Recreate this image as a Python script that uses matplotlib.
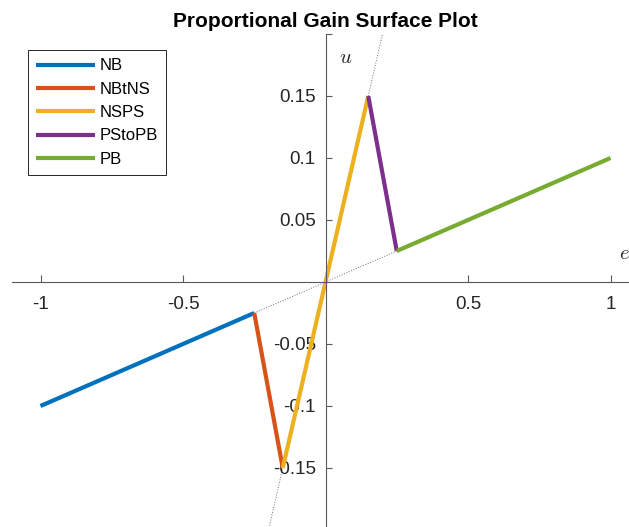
#Proportional gain surface plot, piecewise linear u(e)
import numpy as np
import matplotlib
matplotlib.use('Agg')
import matplotlib.pyplot as plt

plt.rcParams['font.family'] = ['Liberation Sans', 'DejaVu Sans']
plt.rcParams['mathtext.fontset'] = 'cm'

# Abschnitte der Kennlinie
e_NB = [-1, -0.25]
u_NB = [-0.1, -0.025]
e_NBtNS = [-0.25, -0.15]
u_NBtNS = [-0.025, -0.15]
e_NSPS = [-0.15, 0.15]
u_NSPS = [-0.15, 0.15]
e_PStoPB = [0.15, 0.25]
u_PStoPB = [0.15, 0.025]
e_PB = [0.25, 1]
u_PB = [0.025, 0.1]

# Hilfslinien (gepunktet)
e_flat = [-0.25, 0.25]
u_flat = [-0.025, 0.025]
e_steep = [-0.25, 0.25]
u_steep = [-0.25, 0.25]

xticks = [-1, -0.5, 0.5, 1]
xlabels = ['-1', '-0.5', '0.5', '1']
yticks = [-0.15, -0.1, -0.05, 0.05, 0.1, 0.15, 0.2]
ylabels = ['-0.15', '-0.1', '-0.05', '0.05', '0.1', '0.15', '']

names = ['NB', 'NBtNS', 'NSPS', 'PStoPB', 'PB']
colors = ['#0072BD', '#D95319', '#EDB120', '#7E2F8E', '#77AC30']

fig = plt.figure(figsize=(6.29, 5.27), dpi=100)
ax = fig.add_axes([12/629, -3/527, 627/629, 496/527])

ax.plot(e_flat, u_flat, ':', color='#707070', lw=0.7, zorder=1)
ax.plot(e_steep, u_steep, ':', color='#707070', lw=0.7, zorder=1)

segs = [(e_NB, u_NB), (e_NBtNS, u_NBtNS), (e_NSPS, u_NSPS), (e_PStoPB, u_PStoPB), (e_PB, u_PB)]
for (e, u), name, c in zip(segs, names, colors):
    ax.plot(e, u, '-', color=c, lw=3.0, label=name, zorder=2, solid_capstyle='butt')

ax.set_xlim(-1.1, 1.1)
ax.set_ylim(-0.2, 0.2)

ax.spines['left'].set_position(('data', 0))
ax.spines['bottom'].set_position(('data', 0))
ax.spines['top'].set_visible(False)
ax.spines['right'].set_visible(False)
for s in ['left', 'bottom']:
    ax.spines[s].set_color('#5a5a5a')
    ax.spines[s].set_linewidth(0.8)

ax.set_xticks(xticks)
ax.set_xticklabels(xlabels)
ax.set_yticks(yticks)
ax.set_yticklabels(ylabels)
ax.tick_params(axis='x', direction='in', length=5, width=0.8, color='#5a5a5a',
               labelsize=13.5, labelcolor='#262626', pad=10)
ax.tick_params(axis='y', direction='in', length=4, width=0.8, color='#5a5a5a',
               labelsize=13.5, labelcolor='#262626', pad=7)

ax.text(0.07, 0.181, '$u$', fontsize=15, ha='center', va='center', color='#262626')
ax.text(1.05, 0.023, '$e$', fontsize=15, ha='center', va='center', color='#262626')

ax.set_title('Proportional Gain Surface Plot', fontsize=15, fontweight='bold', pad=5)

leg = ax.legend(loc='upper left', bbox_to_anchor=(28/629, 1 - 50/527),
                bbox_transform=fig.transFigure, borderaxespad=0, fontsize=12,
                fancybox=False, framealpha=1, edgecolor='#262626',
                handlelength=3.5, handletextpad=0.3, labelspacing=0.5, borderpad=0.5)
leg.get_frame().set_linewidth(0.7)

plt.savefig('out.png', dpi=100)
